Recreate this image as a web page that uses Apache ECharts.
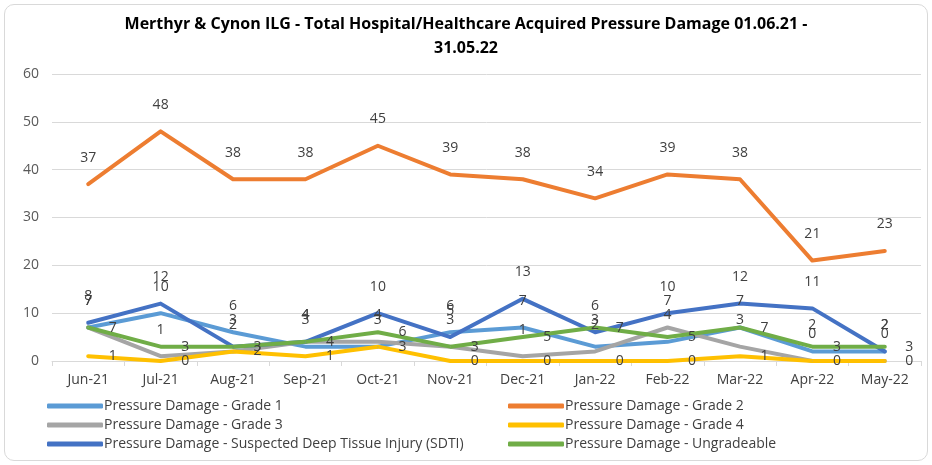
<!DOCTYPE html>
<html><head><meta charset="utf-8">
<script src="https://cdn.jsdelivr.net/npm/echarts@6/dist/echarts.min.js"></script>
<style>
html,body{margin:0;padding:0;background:#fff;}
#frame{position:absolute;left:4px;top:4px;width:922px;height:455px;border:1px solid #d9d9d9;border-radius:10px;}
#c{position:absolute;left:0;top:0;width:932px;height:465px;}
</style></head>
<body><div id="frame"></div><div id="c"></div>
<script>
const categories = ['Jun-21','Jul-21','Aug-21','Sep-21','Oct-21','Nov-21','Dec-21','Jan-22','Feb-22','Mar-22','Apr-22','May-22'];
const grade1 = [7,10,6,3,3,6,7,3,4,7,2,2];
const grade2 = [37,48,38,38,45,39,38,34,39,38,21,23];
const grade3 = [7,1,2,4,4,3,1,2,7,3,0,0];
const grade4 = [1,0,2,1,3,0,0,0,0,1,0,0];
const sdti = [8,12,3,4,10,5,13,6,10,12,11,2];
const ungradeable = [7,3,3,4,6,3,5,7,5,7,3,3];
const yTicks = [0,10,20,30,40,50,60];

const names = {
  g1:'Pressure Damage - Grade 1', g2:'Pressure Damage - Grade 2', g3:'Pressure Damage - Grade 3',
  g4:'Pressure Damage - Grade 4', sd:'Pressure Damage - Suspected Deep Tissue Injury (SDTI)', un:'Pressure Damage - Ungradeable'
};
const FONT = '"Open Sans", sans-serif';
function mk(name, data, color, pos){
  return {
    name, type:'line', data, symbol:'circle', symbolSize:1, showSymbol:true,
    lineStyle:{width:4, color, cap:'round', join:'round'}, itemStyle:{color},
    label:{show:true, position:pos, distance: pos==='top'?19:20, color:'#404040', fontSize:14, fontFamily:FONT,
      formatter: p=>String(p.value)},
    labelLayout:{hideOverlap:false},
    emphasis:{disabled:true}, animation:false
  };
}
const chart = echarts.init(document.getElementById('c'), null, {renderer:'canvas'});
const legendCommon = {orient:'vertical', itemWidth:56, itemHeight:5, itemGap:5, icon:'roundRect',
  textStyle:{color:'#404040', fontSize:14, fontFamily:FONT, padding:[0,0,0,-4]}, selectedMode:false};
chart.setOption({
  animation:false,
  title:{text:'Merthyr & Cynon ILG - Total Hospital/Healthcare Acquired Pressure Damage 01.06.21 -\n31.05.22',
    left:'center', top:7, textStyle:{fontSize:16, fontWeight:'bold', color:'#000', fontFamily:FONT, lineHeight:24}},
  grid:{left:52, right:11, top:74, bottom:104},
  xAxis:{type:'category', data:categories, boundaryGap:true,
    axisLine:{lineStyle:{color:'#d9d9d9', width:1}}, axisTick:{show:true, alignWithLabel:false, length:5, lineStyle:{color:'#d9d9d9'}},
    axisLabel:{color:'#404040', fontSize:14, fontFamily:FONT, margin:12}},
  yAxis:{type:'value', min:0, max:60, interval:10,
    axisLabel:{color:'#595959', fontSize:14, fontFamily:FONT, margin:13, formatter:v=>yTicks.includes(v)?String(v):''},
    splitLine:{lineStyle:{color:'#d9d9d9', width:1}}, axisLine:{show:false}, axisTick:{show:false}},
  legend:[
    Object.assign({left:42, top:394, data:[names.g1, names.g3, names.sd]}, legendCommon),
    Object.assign({left:503, top:394, data:[names.g2, names.g4, names.un]}, legendCommon)
  ],
  series:[
    mk(names.g1, grade1, '#5B9BD5', 'top'),
    mk(names.g2, grade2, '#ED7D31', 'top'),
    mk(names.g3, grade3, '#A5A5A5', 'top'),
    mk(names.g4, grade4, '#FFC000', 'right'),
    mk(names.sd, sdti, '#4472C4', 'top'),
    mk(names.un, ungradeable, '#70AD47', 'right')
  ]
});
</script></body></html>
